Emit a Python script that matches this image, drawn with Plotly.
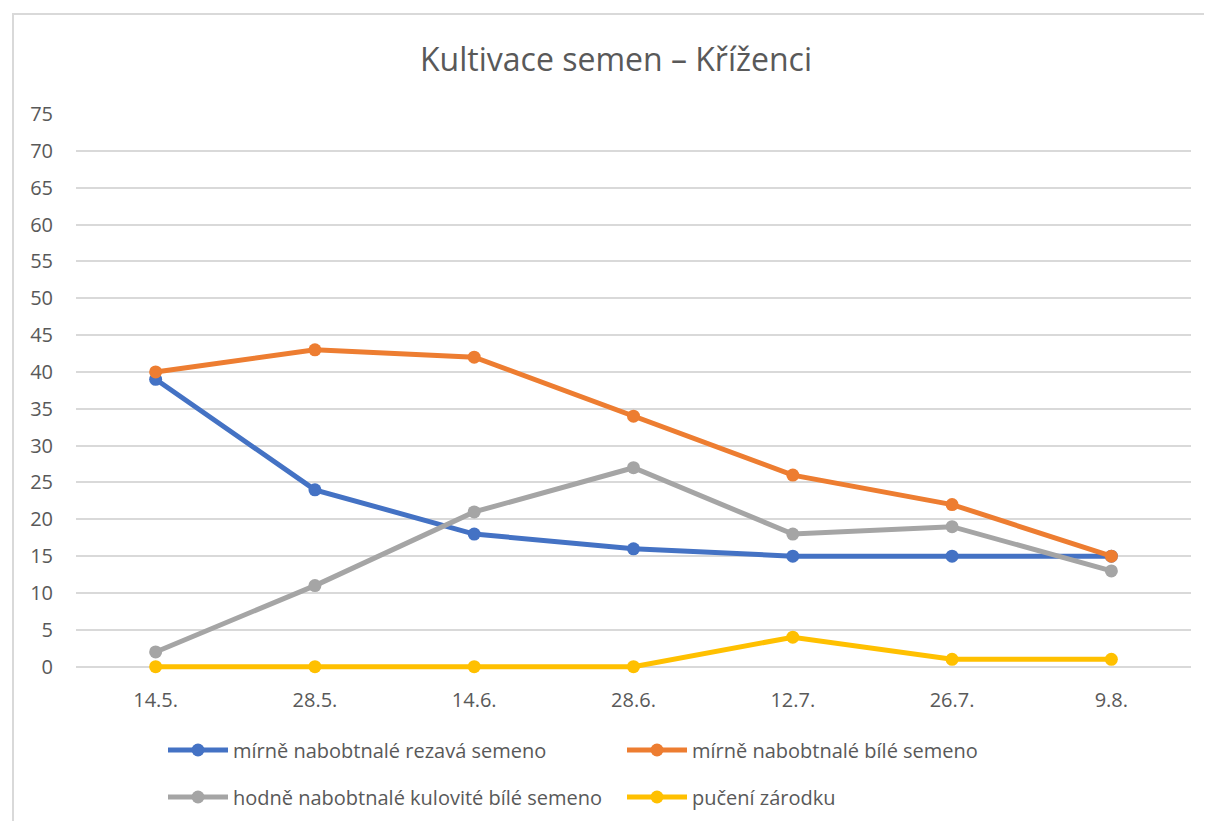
import plotly.graph_objects as go

categories = ["14.5.", "28.5.", "14.6.", "28.6.", "12.7.", "26.7.", "9.8."]
s_rezava = [39, 24, 18, 16, 15, 15, 15]
s_bile = [40, 43, 42, 34, 26, 22, 15]
s_kulovite = [2, 11, 21, 27, 18, 19, 13]
s_puceni = [0, 0, 0, 0, 4, 1, 1]
names = ["mírně nabobtnalé rezavá semeno", "mírně nabobtnalé bílé semeno",
         "hodně nabobtnalé kulovité bílé semeno", "pučení zárodku"]
colors = ["#4472C4", "#ED7D31", "#A5A5A5", "#FFC000"]
legend_ids = ["legend", "legend", "legend2", "legend2"]
y_ticks = list(range(0, 80, 5))

FONT = "Open Sans"
fig = go.Figure()
for vals, name, col, lg in zip([s_rezava, s_bile, s_kulovite, s_puceni], names, colors, legend_ids):
    fig.add_trace(go.Scatter(x=categories, y=vals, name=name, mode="lines+markers",
                             line=dict(color=col, width=5), cliponaxis=False,
                             marker=dict(color=col, size=13), legend=lg))

W, H = 1212, 821
OFF = 8  # page body margin
PPU = (667 - 114) / 75.0  # pixels per unit
YMIN = -0.45
L, R, T = 76 - OFF, 1191 - OFF, 114 - OFF
B = int(round(667 - YMIN * PPU)) - OFF
def px(x):
    return (x - OFF - L) / (R - L)
def py(y):
    return (B - (y - OFF)) / (B - T)

legend_common = dict(orientation="h", x=px(163), xanchor="left", yanchor="middle",
                     entrywidth=384, entrywidthmode="pixels", itemwidth=60,
                     font=dict(size=20, color="#595959", family=FONT),
                     bgcolor="rgba(0,0,0,0)")

fig.update_layout(
    width=W, height=H,
    margin=dict(l=L, r=W - R, t=T, b=H - B, pad=0, autoexpand=False),
    paper_bgcolor="white", plot_bgcolor="white",
    font=dict(family=FONT, color="#595959", size=20),
    title=dict(text="Kultivace semen – Kříženci", x=(616 - OFF) / W, xanchor="center",
               y=1 - (60 - OFF) / H, yanchor="middle",
               font=dict(family=FONT, size=32, color="#595959")),
    xaxis=dict(type="category", range=[-0.5, 6.5], showgrid=False, showline=False,
               ticks="", zeroline=False, ticklabelstandoff=16,
               tickfont=dict(size=20, color="#595959")),
    yaxis=dict(range=[YMIN, 75], tickvals=y_ticks, showgrid=True, gridcolor="#D9D9D9",
               gridwidth=1.5, zeroline=False, showline=False, ticks="", ticklabelstandoff=22,
               tickfont=dict(size=20, color="#595959")),
    showlegend=True,
    legend=dict(legend_common, y=py(750)),
    legend2=dict(legend_common, y=py(797)),
    shapes=[dict(type="rect", xref="paper", yref="paper",
                 x0=px(13), x1=px(1222), y0=py(830), y1=py(14),
                 line=dict(color="#D9D9D9", width=2), fillcolor="rgba(0,0,0,0)", layer="below")],
)
fig.write_html("out.html")
